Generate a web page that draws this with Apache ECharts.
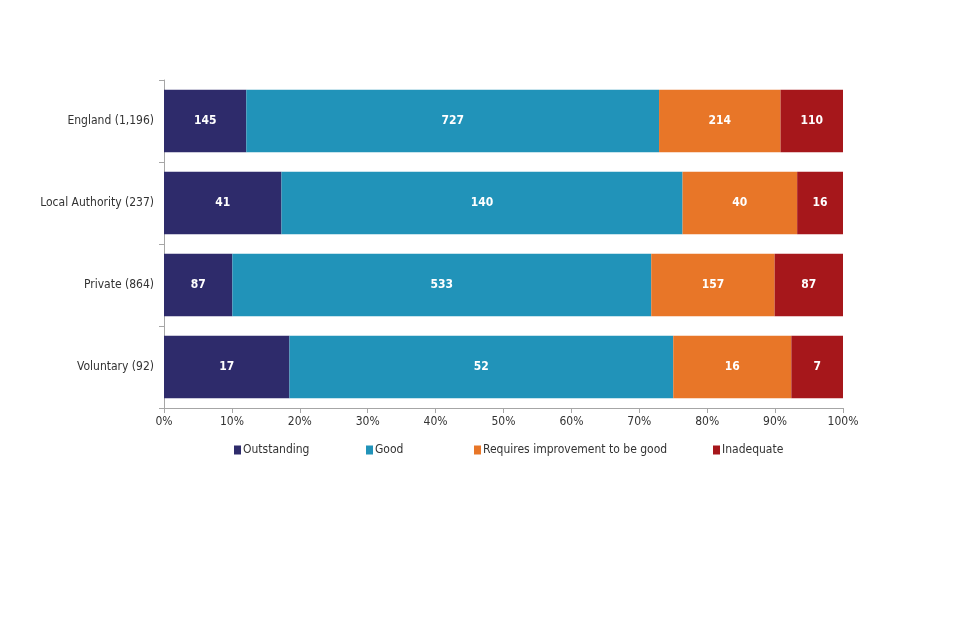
<!DOCTYPE html>
<html><head><meta charset="utf-8">
<script src="https://cdn.jsdelivr.net/npm/echarts@6/dist/echarts.min.js"></script>
<style>html,body{margin:0;padding:0;background:#fff}#c{width:960px;height:640px}</style>
</head><body><div id="c"></div>
<script>
const categories = ['England (1,196)', 'Local Authority (237)', 'Private (864)', 'Voluntary (92)'];
const seriesNames = ['Outstanding', 'Good', 'Requires improvement to be good', 'Inadequate'];
const outstanding = [145, 41, 87, 17];
const good = [727, 140, 533, 52];
const requiresImprovement = [214, 40, 157, 16];
const inadequate = [110, 16, 87, 7];
const xTickLabels = ['0%','10%','20%','30%','40%','50%','60%','70%','80%','90%','100%'];
const colors = ['#2e2b6b', '#2193b9', '#e87628', '#a6171b'];
const legendLeft = [229, 361, 469, 708];

const counts = [outstanding, good, requiresImprovement, inadequate];
const totals = categories.map((_, i) => counts.reduce((s, a) => s + a[i], 0));
const font = '"DejaVu Sans Condensed", "Liberation Sans", sans-serif';

const chart = echarts.init(document.getElementById('c'));
chart.setOption({
  animation: false,
  textStyle: { fontFamily: font },
  color: colors,
  grid: { left: 164, right: 117, top: 80, bottom: 232, containLabel: false },
  legend: seriesNames.map((name, k) => ({
    data: [name],
    left: legendLeft[k], top: 439,
    itemWidth: 7, itemHeight: 9, itemGap: 0,
    icon: 'rect', selectedMode: false,
    textStyle: { fontFamily: font, fontSize: 12, color: '#333', padding: [0, 0, 0, -3] }
  })),
  xAxis: {
    type: 'value', min: 0, max: 100, interval: 10,
    axisLine: { show: true, lineStyle: { color: '#a6a6a6' } },
    axisTick: { show: true, length: 5, lineStyle: { color: '#a6a6a6' } },
    splitLine: { show: false },
    axisLabel: { fontFamily: font, fontSize: 12, color: '#333', margin: 8,
      formatter: v => xTickLabels[Math.round(v / 10)] }
  },
  yAxis: {
    type: 'category', data: categories, inverse: true,
    axisLine: { show: true, lineStyle: { color: '#a6a6a6' } },
    axisTick: { show: true, length: 5, lineStyle: { color: '#a6a6a6' } },
    axisLabel: { fontFamily: font, fontSize: 12, color: '#333', margin: 10 }
  },
  series: seriesNames.map((name, k) => ({
    name, type: 'bar', stack: 'total', barWidth: '76%',
    itemStyle: { color: colors[k] },
    label: {
      show: true, position: 'inside', color: '#fff', fontWeight: 'bold',
      fontFamily: font, fontSize: 12,
      formatter: p => String(counts[k][p.dataIndex])
    },
    data: counts[k].map((v, i) => v / totals[i] * 100)
  }))
});
</script></body></html>
